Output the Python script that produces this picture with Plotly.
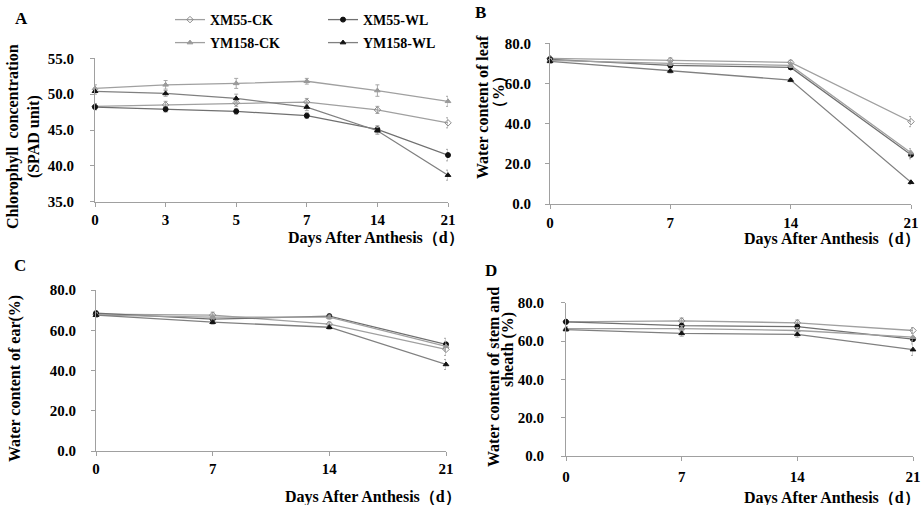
import plotly.graph_objects as go

W, H = 922, 505
FONT = "Liberation Serif"

series = ["XM55-CK", "XM55-WL", "YM158-CK", "YM158-WL"]

# Panel A: chlorophyll (SPAD)
days_a = ["0", "3", "5", "7", "14", "21"]
a_xm55_ck = [48.3, 48.5, 48.8, 48.9, 47.8, 46.0]
a_xm55_wl = [48.2, 47.9, 47.6, 47.0, 45.1, 41.5]
a_ym158_ck = [50.8, 51.3, 51.5, 51.8, 50.5, 49.0]
a_ym158_wl = [50.4, 50.1, 49.4, 48.2, 44.9, 38.7]
a_err_xm55_ck = [0.4, 0.5, 0.5, 0.5, 0.5, 0.7]
a_err_xm55_wl = [0.4, 0.4, 0.4, 0.4, 0.5, 0.8]
a_err_ym158_ck = [0.5, 0.6, 0.7, 0.4, 0.8, 0.7]
a_err_ym158_wl = [0.4, 0.4, 0.6, 0.5, 0.5, 0.7]

days_bcd = [0, 7, 14, 21]
# Panel B: water content of leaf (%)
b_xm55_ck = [72.5, 71.5, 70.5, 41.0]
b_xm55_wl = [72.0, 69.0, 68.0, 24.5]
b_ym158_ck = [71.5, 70.0, 69.0, 25.5]
b_ym158_wl = [71.0, 66.2, 61.7, 10.8]
b_err_xm55_ck = [1.0, 1.2, 1.0, 2.5]
b_err_xm55_wl = [1.0, 1.0, 1.0, 2.0]
b_err_ym158_ck = [1.0, 1.0, 1.0, 2.0]
b_err_ym158_wl = [1.0, 1.0, 0.8, 1.0]

# Panel C: water content of ear (%)
c_xm55_ck = [68.0, 67.5, 63.0, 50.5]
c_xm55_wl = [68.5, 65.5, 67.0, 53.0]
c_ym158_ck = [67.5, 66.5, 66.5, 52.0]
c_ym158_wl = [67.5, 64.0, 61.5, 43.0]
c_err_xm55_ck = [1.0, 1.5, 1.0, 3.0]
c_err_xm55_wl = [1.0, 1.0, 1.0, 3.0]
c_err_ym158_ck = [1.0, 1.0, 1.0, 2.5]
c_err_ym158_wl = [1.0, 1.0, 1.0, 2.5]

# Panel D: water content of stem and sheath (%)
d_xm55_ck = [70.0, 70.5, 69.5, 65.5]
d_xm55_wl = [70.0, 68.0, 67.5, 61.0]
d_ym158_ck = [66.5, 66.5, 65.5, 62.0]
d_ym158_wl = [66.0, 64.0, 63.5, 55.5]
d_err_xm55_ck = [1.0, 1.5, 1.5, 1.5]
d_err_xm55_wl = [1.0, 1.5, 1.5, 1.5]
d_err_ym158_ck = [1.0, 1.5, 1.5, 2.0]
d_err_ym158_wl = [1.0, 1.5, 1.5, 3.0]

styles = {
    "XM55-CK": dict(symbol="diamond-open", color="#8a8a8a", size=5),
    "XM55-WL": dict(symbol="circle", color="#111111", size=5),
    "YM158-CK": dict(symbol="triangle-up", color="#9a9a9a", size=5),
    "YM158-WL": dict(symbol="triangle-up", color="#111111", size=5),
}
line_colors = {"XM55-CK": "#a0a0a0", "XM55-WL": "#707070",
               "YM158-CK": "#a0a0a0", "YM158-WL": "#808080"}
legend_of = {"XM55-CK": "legend", "XM55-WL": "legend",
             "YM158-CK": "legend2", "YM158-WL": "legend2"}

panels = [
    ("x", "y", days_a, [a_xm55_ck, a_xm55_wl, a_ym158_ck, a_ym158_wl],
     [a_err_xm55_ck, a_err_xm55_wl, a_err_ym158_ck, a_err_ym158_wl], True),
    ("x2", "y2", days_bcd, [b_xm55_ck, b_xm55_wl, b_ym158_ck, b_ym158_wl],
     [b_err_xm55_ck, b_err_xm55_wl, b_err_ym158_ck, b_err_ym158_wl], False),
    ("x3", "y3", days_bcd, [c_xm55_ck, c_xm55_wl, c_ym158_ck, c_ym158_wl],
     [c_err_xm55_ck, c_err_xm55_wl, c_err_ym158_ck, c_err_ym158_wl], False),
    ("x4", "y4", days_bcd, [d_xm55_ck, d_xm55_wl, d_ym158_ck, d_ym158_wl],
     [d_err_xm55_ck, d_err_xm55_wl, d_err_ym158_ck, d_err_ym158_wl], False),
]

fig = go.Figure()
for xa, ya, xs, ys_list, err_list, show in panels:
    for name, ys, errs in zip(series, ys_list, err_list):
        st = styles[name]
        fig.add_trace(go.Scatter(
            x=xs, y=ys, name=name, xaxis=xa, yaxis=ya,
            mode="lines+markers", cliponaxis=False,
            line=dict(color=line_colors[name], width=1.3),
            marker=dict(symbol=st["symbol"], color=st["color"], size=st["size"],
                        line=dict(color=st["color"], width=1)),
            error_y=dict(type="data", array=errs, visible=True,
                         color="#a8a8a8", thickness=1, width=2),
            showlegend=show, legend=legend_of[name],
        ))

def px_x(p):
    return p / W

def px_y(p):
    return 1 - p / H

TF = dict(family=FONT, size=15, color="black", weight="bold")
LF = dict(family=FONT, size=14, color="black", weight="bold")

axis_common = dict(showgrid=False, zeroline=False, showline=True,
                   linecolor="#a0a0a0", linewidth=1.2, ticks="outside",
                   ticklen=4, tickcolor="#a0a0a0", tickwidth=1,
                   tickfont=TF, automargin=False)

layout = dict(
    width=W, height=H, margin=dict(l=0, r=0, t=0, b=0, autoexpand=False),
    paper_bgcolor="white", plot_bgcolor="white",
    font=dict(family=FONT, size=15, color="black", weight="bold"),
    xaxis=dict(axis_common, domain=[px_x(95), px_x(448)], anchor="y",
               type="category", range=[0, 5], ticklabelstandoff=0),
    yaxis=dict(axis_common, domain=[px_y(201.7), px_y(58.3)], anchor="x",
               range=[35, 55], dtick=5, tickformat=".1f", ticklabelstandoff=13),
    xaxis2=dict(axis_common, domain=[px_x(550), px_x(911)], anchor="y2",
                range=[0, 21], tickvals=days_bcd, ticklabelstandoff=1),
    yaxis2=dict(axis_common, domain=[px_y(204), px_y(43.3)], anchor="x2",
                range=[0, 80], dtick=20, tickformat=".1f", ticklabelstandoff=11),
    xaxis3=dict(axis_common, domain=[px_x(96), px_x(446)], anchor="y3",
                range=[0, 21], tickvals=days_bcd, ticklabelstandoff=0),
    yaxis3=dict(axis_common, domain=[px_y(451), px_y(290)], anchor="x3",
                range=[0, 80], dtick=20, tickformat=".1f", ticklabelstandoff=12),
    xaxis4=dict(axis_common, domain=[px_x(566), px_x(913)], anchor="y4",
                range=[0, 21], tickvals=days_bcd, ticklabelstandoff=3),
    yaxis4=dict(axis_common, domain=[px_y(456), px_y(302.7)], anchor="x4",
                range=[0, 80], dtick=20, tickformat=".1f", ticklabelstandoff=14),
    legend=dict(orientation="h", x=px_x(170), y=px_y(20), xanchor="left",
                yanchor="middle", entrywidth=108, entrywidthmode="pixels",
                itemwidth=30, bgcolor="rgba(0,0,0,0)", font=LF),
    legend2=dict(orientation="h", x=px_x(170), y=px_y(43), xanchor="left",
                 yanchor="middle", entrywidth=108, entrywidthmode="pixels",
                 itemwidth=30, bgcolor="rgba(0,0,0,0)", font=LF),
)
fig.update_layout(**layout)

ann = []
def text(x, y, t, size=16, angle=0, xanchor="center"):
    ann.append(dict(x=px_x(x), y=px_y(y), xref="paper", yref="paper", text=t,
                    showarrow=False, textangle=angle, xanchor=xanchor,
                    yanchor="middle",
                    font=dict(family=FONT, size=size, color="black", weight="bold")))

# panel letters
text(21, 18, "A", 17)
text(481, 12, "B", 17)
text(20, 265, "C", 17)
text(491, 270, "D", 17)

# x titles
xt = "Days After Anthesis（d）"
text(466, 238, xt, xanchor="right")
text(922, 239, xt, xanchor="right")
text(463, 497, xt, xanchor="right")
text(922, 498, xt, xanchor="right")

# y titles
text(23, 137, "Chlorophyll  concentration<br>(SPAD unit)", angle=-90)
text(483, 107, "Water content of leaf", angle=-90)
text(499, 92, "（%）", angle=-90)
text(15, 379, "Water content of ear(%)", angle=-90)
text(493, 377, "Water content of stem and", angle=-90)
text(508, 350, "sheath (%)", angle=-90)

fig.update_layout(annotations=ann)
fig.write_html("out.html", config={"displayModeBar": False},
               post_script="document.body.style.margin='0px';document.body.style.padding='0px';")
